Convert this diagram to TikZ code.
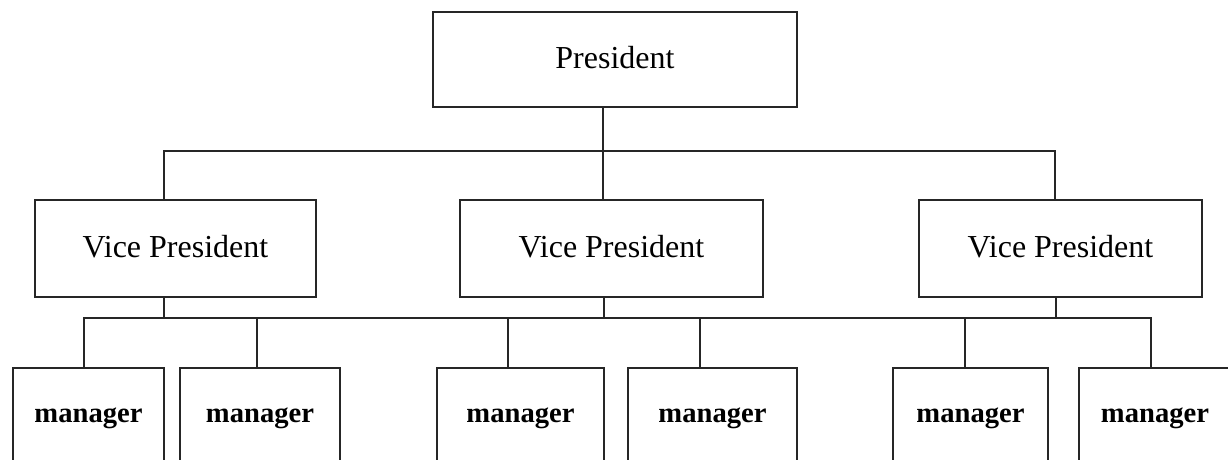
\documentclass[tikz,border=0pt]{standalone}
\usepackage{fontspec}
\setmainfont{Liberation Serif}
\begin{document}
\begin{tikzpicture}[x=0.5pt,y=-0.5pt,
  box/.style={draw=black!85,line width=1pt,rectangle,inner sep=0pt,outer sep=0pt,fill=white},
  top/.style={box,font=\fontsize{16}{19}\selectfont,text depth=2pt},
  mgr/.style={box,font=\fontsize{14.3}{17}\selectfont\bfseries,minimum height=50pt},
  link/.style={draw=black!85,line width=1pt}]
\clip (0,0) rectangle (1228,460);
\fill[white] (0,0) rectangle (1228,460);
% nodes
\node[top,minimum width=182pt,minimum height=47.5pt] (P) at (615,59.5) {President};
\node[top,minimum width=140.5pt,minimum height=48.5pt] (V1) at (175.5,248.5) {Vice President};
\node[top,minimum width=151.5pt,minimum height=48.5pt] (V2) at (611.5,248.5) {Vice President};
\node[top,minimum width=141.5pt,minimum height=48.5pt] (V3) at (1060.5,248.5) {Vice President};
\node[mgr,minimum width=75.5pt] (M1) at (88.5,418) {manager};
\node[mgr,minimum width=80pt] (M2) at (260,418) {manager};
\node[mgr,minimum width=83.5pt] (M3) at (520.5,418) {manager};
\node[mgr,minimum width=84.5pt] (M4) at (712.5,418) {manager};
\node[mgr,minimum width=77.5pt] (M5) at (970.5,418) {manager};
\node[mgr,minimum width=76pt] (M6) at (1155,418) {manager};
% junction coordinates
\coordinate (a1) at (164,151);
\coordinate (a2) at (603,151);
\coordinate (a3) at (1055,151);
\coordinate (b1) at (164,318);
\coordinate (b2) at (604,318);
\coordinate (b3) at (1056,318);
\coordinate (c1) at (84,318);
\coordinate (c2) at (257,318);
\coordinate (c3) at (508,318);
\coordinate (c4) at (700,318);
\coordinate (c5) at (965,318);
\coordinate (c6) at (1151,318);
% top level
\draw[link] (P.south -| a2) -- (V2.north -| a2);
\draw[link] (V1.north -| a1) -- (a1) -- (a3) -- (V3.north -| a3);
% second level
\draw[link] (V1.south -| b1) -- (b1);
\draw[link] (V2.south -| b2) -- (b2);
\draw[link] (V3.south -| b3) -- (b3);
\draw[link] (M1.north -| c1) -- (c1) -- (c6) -- (M6.north -| c6);
\draw[link] (c2) -- (M2.north -| c2);
\draw[link] (c3) -- (M3.north -| c3);
\draw[link] (c4) -- (M4.north -| c4);
\draw[link] (c5) -- (M5.north -| c5);
\end{tikzpicture}
\end{document}
